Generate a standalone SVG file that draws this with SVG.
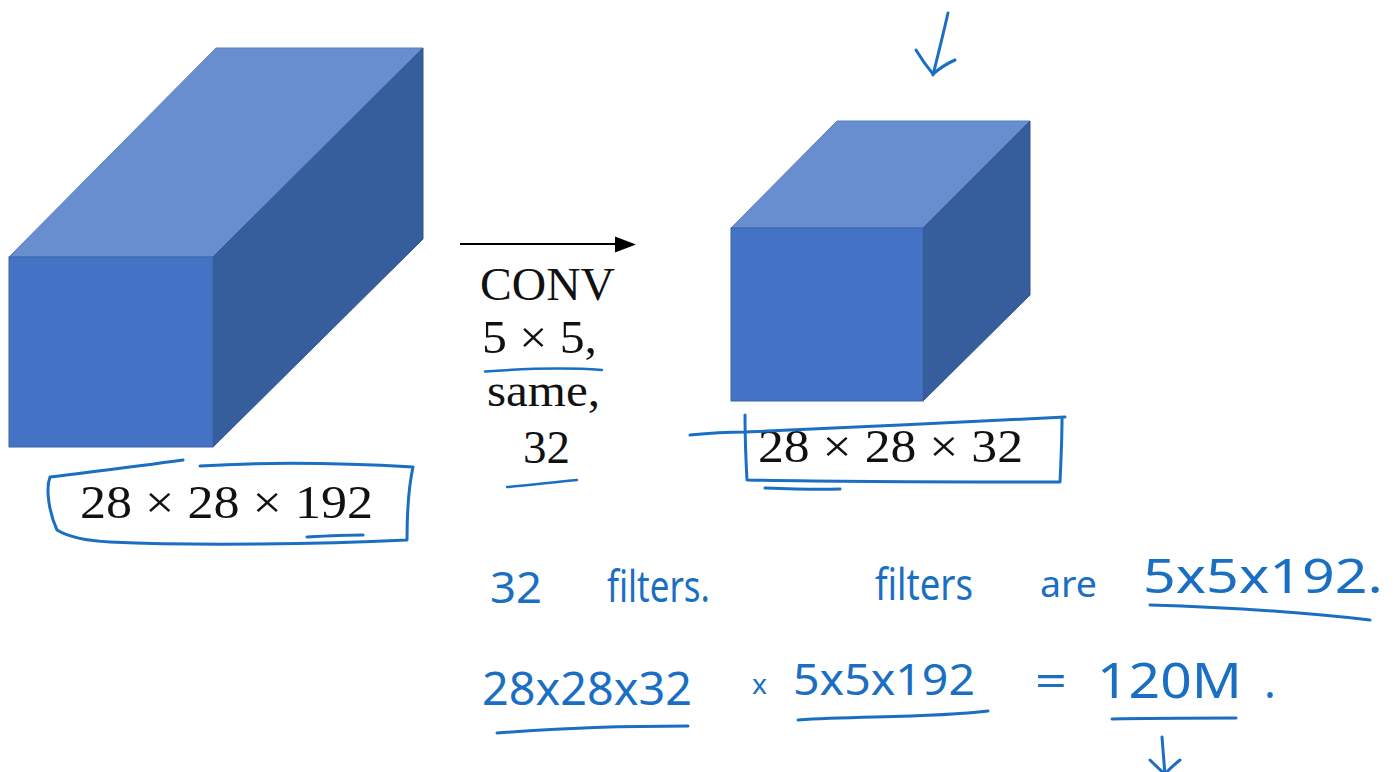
<svg xmlns="http://www.w3.org/2000/svg" width="1399" height="772" viewBox="0 0 1399 772">
<style>
.front{fill:#4472C4;stroke:#3A62A8;stroke-width:1}
.top{fill:#698ED0;stroke:#5A7FC0;stroke-width:1}
.side{fill:#365E9D;stroke:#30548D;stroke-width:1}
.math{font-family:"Liberation Serif","DejaVu Serif",serif;fill:#111;font-size:47px}
.ink{fill:none;stroke:#1A6FC2;stroke-width:3;stroke-linecap:round;stroke-linejoin:round}
.hand{font-family:"Noto Sans","Liberation Sans",sans-serif;fill:#1A6FC2;font-weight:400}
.conn{stroke:#000;stroke-width:2;fill:none}
</style>
<rect width="1399" height="772" fill="#fff"/>

<g id="input-volume">
<polygon class="top" points="9,257 216,48 423,48 213,257"/>
<polygon class="side" points="213,257 423,48 423,239 213,447"/>
<rect class="front" x="9" y="257" width="204" height="190"/>
</g>

<g id="output-volume">
<polygon class="top" points="731,228 837,121 1030,121 923,228"/>
<polygon class="side" points="923,228 1030,121 1030,295 923,401"/>
<rect class="front" x="731" y="228" width="192" height="173"/>
</g>

<g id="connectors">
<line class="conn" x1="460" y1="244" x2="616" y2="244"/>
<path d="M615,236.5 L636,244.5 L615,252.5 Z" fill="#000"/>
</g>

<g id="input-label">
<text class="math" x="80" y="518" textLength="293" lengthAdjust="spacingAndGlyphs">28 × 28 × 192</text>
<path class="ink" d="M183,460 C140,466 90,472 50,477 C45,490 50,515 57,530 C70,538 90,541 110,542 C200,546 320,544 407,540 C407,520 408,490 413,467 C360,464 280,461 200,466"/>
<path class="ink" d="M307,537 C325,536 345,535 363,535"/>
</g>

<g id="conv-label">
<text class="math" x="480" y="300" textLength="135" lengthAdjust="spacingAndGlyphs">CONV</text>
<text class="math" x="482" y="353" textLength="115" lengthAdjust="spacingAndGlyphs">5 × 5,</text>
<text class="math" x="487" y="406" textLength="113" lengthAdjust="spacingAndGlyphs">same,</text>
<text class="math" x="523" y="463" textLength="47" lengthAdjust="spacingAndGlyphs">32</text>
<path class="ink" d="M485,371.5 C520,369 560,367 602,370" style="stroke-width:2.5"/>
<path class="ink" d="M507,487 C530,485 555,482 577,480" style="stroke-width:2.5"/>
</g>

<g id="output-label">
<text class="math" x="758" y="462" textLength="265" lengthAdjust="spacingAndGlyphs">28 × 28 × 32</text>
<path class="ink" d="M690,435 C710,433 730,432 745,432 C850,428 960,422 1065,417"/>
<path class="ink" d="M745,415 C745,440 746,462 747,480 C850,482 960,482 1060,482 C1061,460 1062,440 1062,419"/>
<path class="ink" d="M765,488 C790,489 815,490 840,489"/>
</g>

<g id="annotations">
<path class="ink" d="M948,13 C943,35 938,55 933,75"/>
<path class="ink" d="M916,50 C922,60 928,68 933,74 C940,68 948,63 955,60"/>

<text class="hand" x="490" y="603" font-size="44" textLength="52" lengthAdjust="spacingAndGlyphs">32</text>
<text class="hand" x="607" y="602" font-size="44" textLength="103" lengthAdjust="spacingAndGlyphs">filters.</text>
<text class="hand" x="875" y="600" font-size="44" textLength="98" lengthAdjust="spacingAndGlyphs">filters</text>
<text class="hand" x="1040" y="597" font-size="36" textLength="57" lengthAdjust="spacingAndGlyphs">are</text>
<text class="hand" x="1143" y="593" font-size="48" textLength="240" lengthAdjust="spacingAndGlyphs">5x5x192.</text>
<path class="ink" d="M1150,605 C1220,607 1300,612 1370,620"/>

<text class="hand" x="482" y="705" font-size="46" textLength="210" lengthAdjust="spacingAndGlyphs">28x28x32</text>
<path class="ink" d="M497,733 C560,728 620,726 688,726"/>
<text class="hand" x="752" y="694" font-size="28" textLength="15" lengthAdjust="spacingAndGlyphs">x</text>
<text class="hand" x="793" y="695" font-size="44" textLength="182" lengthAdjust="spacingAndGlyphs">5x5x192</text>
<path class="ink" d="M798,720 C860,716 930,718 988,711"/>
<text class="hand" x="1035" y="697" font-size="44" textLength="32" lengthAdjust="spacingAndGlyphs">=</text>
<text class="hand" x="1097" y="698" font-size="50" textLength="145" lengthAdjust="spacingAndGlyphs">120M</text>
<text class="hand" x="1264" y="698" font-size="44">.</text>
<path class="ink" d="M1112,719 C1150,718 1200,718 1236,718"/>

<path class="ink" d="M1162,737 C1163,750 1164,762 1165,775"/>
<path class="ink" d="M1150,760 C1155,765 1160,770 1165,774 C1170,768 1175,764 1180,760"/>
</g>
</svg>
